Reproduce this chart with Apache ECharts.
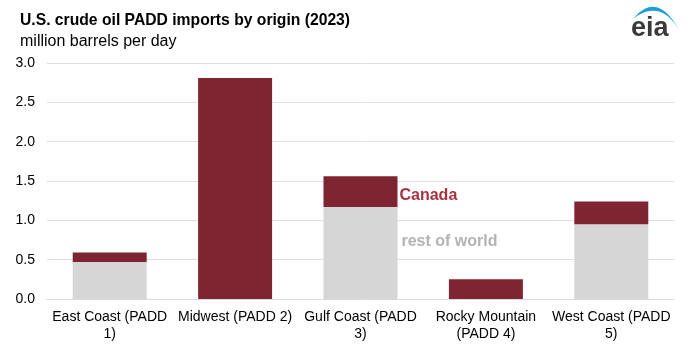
<!DOCTYPE html>
<html>
<head>
<meta charset="utf-8">
<script src="https://cdn.jsdelivr.net/npm/echarts@6/dist/echarts.min.js"></script>
<style>
  body, html { margin: 0; padding: 0; background: #ffffff; }
  #chart { width: 697px; height: 351px; }
</style>
</head>
<body>
<div id="chart"></div>
<script>
// data
const categories = [
  "East Coast (PADD\n1)",
  "Midwest (PADD 2)",
  "Gulf Coast (PADD\n3)",
  "Rocky Mountain\n(PADD 4)",
  "West Coast (PADD\n5)"
];
const restOfWorld = [0.47, 0, 1.17, 0, 0.95];
const canada = [0.12, 2.81, 0.39, 0.25, 0.29];
const yTicks = [0, 0.5, 1.0, 1.5, 2.0, 2.5, 3.0];

const DARK_RED = "#7f2532";
const LIGHT_GRAY = "#d6d6d6";
const FONT = "Liberation Sans, Arial, sans-serif";

// series labels only on the Gulf Coast bar
const restData = restOfWorld.map((v, i) => i === 2 ? {
  value: v,
  label: {
    show: true, position: "right", distance: 4, offset: [0, -11],
    formatter: "rest of world", color: "#b3b3b3",
    fontWeight: "bold", fontSize: 16, fontFamily: FONT
  }
} : v);
const canadaData = canada.map((v, i) => i === 2 ? {
  value: v,
  label: {
    show: true, position: "right", distance: 2, offset: [0, 4],
    formatter: "Canada", color: "#a8323f",
    fontWeight: "bold", fontSize: 16, fontFamily: FONT
  }
} : v);

// eia logo swoosh: crescent between two quadratic curves
function quad(p0, c, p1, n) {
  let pts = [];
  for (let i = 0; i <= n; i++) {
    let t = i / n;
    pts.push([
      (1 - t) * (1 - t) * p0[0] + 2 * (1 - t) * t * c[0] + t * t * p1[0],
      (1 - t) * (1 - t) * p0[1] + 2 * (1 - t) * t * c[1] + t * t * p1[1]
    ]);
  }
  return pts;
}
const swoosh = quad([633, 19], [657, -10], [679, 30], 24)
  .concat(quad([679, 30], [660, -2], [633, 19], 24));

let chart = echarts.init(document.getElementById("chart"));
let option = {
  backgroundColor: "#ffffff",
  animation: false,
  textStyle: { fontFamily: FONT },
  title: {
    text: "U.S. crude oil PADD imports by origin (2023)",
    subtext: "million barrels per day",
    left: 15, top: 8,
    itemGap: 5,
    textStyle: { fontSize: 15.7, fontWeight: "bold", color: "#000", fontFamily: FONT },
    subtextStyle: { fontSize: 16, color: "#000", fontFamily: FONT, padding: [0, 0, 0, 2] }
  },
  grid: { left: 47, right: 23, top: 63, bottom: 52 },
  xAxis: {
    type: "category",
    data: categories,
    axisTick: { show: false },
    axisLine: { lineStyle: { color: "#d9d9d9" } },
    axisLabel: {
      interval: 0, color: "#000", fontSize: 14, margin: 10,
      lineHeight: 17, fontFamily: FONT
    }
  },
  yAxis: {
    type: "value",
    min: yTicks[0],
    max: yTicks[yTicks.length - 1],
    interval: 0.5,
    splitLine: { lineStyle: { color: "#e0e0e0" } },
    axisLabel: {
      color: "#000", fontSize: 14, margin: 12, fontFamily: FONT,
      formatter: (v) => v.toFixed(1)
    }
  },
  series: [
    {
      name: "rest of world", type: "bar", stack: "total",
      barWidth: "59%", data: restData,
      itemStyle: { color: LIGHT_GRAY }
    },
    {
      name: "Canada", type: "bar", stack: "total",
      barWidth: "59%", data: canadaData,
      itemStyle: { color: DARK_RED }
    }
  ],
  graphic: [
    {
      type: "polygon",
      shape: { points: swoosh },
      style: { fill: "#1a9fd9" }
    },
    {
      type: "text", left: 631, top: 15,
      style: { text: "eia", fontSize: 27, fontWeight: "bold", fill: "#3a3a3a", fontFamily: FONT }
    }
  ]
};
chart.setOption(option);
</script>
</body>
</html>
